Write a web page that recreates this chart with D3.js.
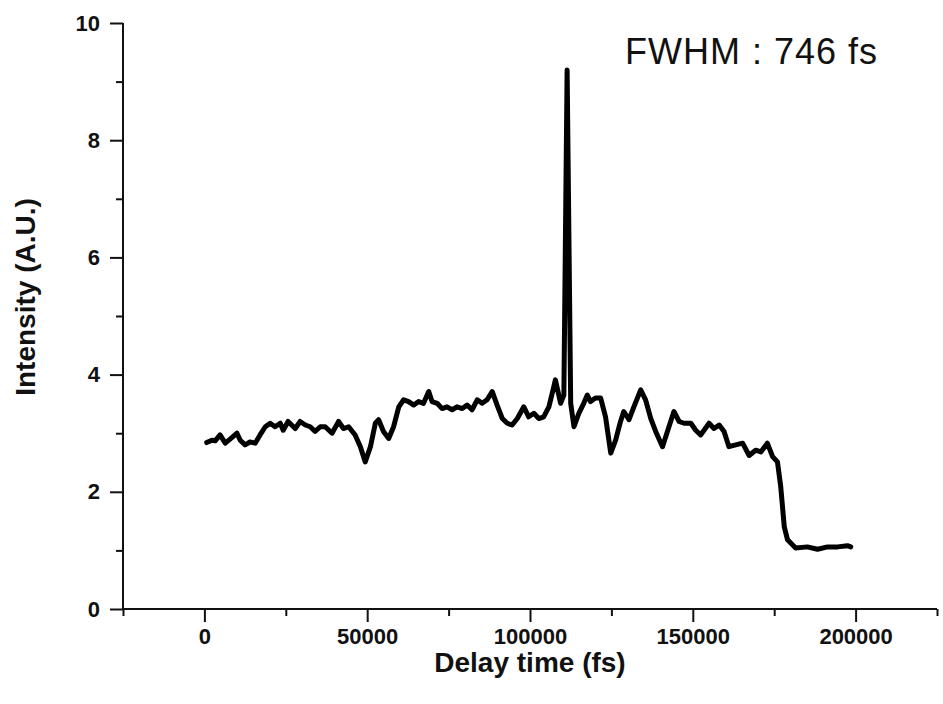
<!DOCTYPE html>
<html>
<head>
<meta charset="utf-8">
<script src="https://cdn.jsdelivr.net/npm/d3@7"></script>
<style>
  html, body { margin: 0; padding: 0; background: #fff; }
  svg { display: block; }
</style>
</head>
<body>
<div id="chart"></div>
<script>
// Autocorrelation trace
const delay = [
  700, 2300, 3300, 4800, 6400, 7900, 10000, 11000, 12500, 14000, 15600, 17100,
  18700, 20200, 21700, 23300, 24200, 25700, 27900, 29400, 31000, 32500, 34000,
  35600, 37100, 39200, 41200, 42700, 44300, 46300, 47900, 49400, 51000, 52500,
  53500, 55000, 56600, 58100, 59700, 61200, 62700, 64300, 65800, 67300, 68900,
  69900, 71500, 73000, 74500, 76100, 77600, 79200, 80700, 82200, 83800, 85300,
  86800, 88400, 89900, 91500, 93000, 94500, 96100, 98100, 99600, 101200, 102700,
  104200, 105800, 107300, 107800, 109400, 110400, 111400, 112500, 113500, 115000,
  116500, 117600, 118600, 120100, 121700, 123200, 124800, 126300, 127800, 128800,
  130400, 131900, 134000, 135500, 137100, 138600, 140700, 142200, 144200, 145800,
  147300, 149400, 150900, 152400, 155000, 156500, 158100, 159600, 161100, 163200,
  165300, 167300, 169300, 170900, 172900, 174500, 176000, 177000, 178100, 179100,
  181600, 185200, 188300, 191400, 194500, 197500, 198500
];
const intensity = [
  2.84, 2.88, 2.87, 2.97, 2.83, 2.90, 3.00, 2.88, 2.80, 2.85, 2.83, 2.97,
  3.11, 3.17, 3.11, 3.17, 3.05, 3.20, 3.08, 3.20, 3.14, 3.11, 3.03,
  3.11, 3.11, 3.00, 3.20, 3.08, 3.11, 2.97, 2.77, 2.51, 2.77, 3.17,
  3.23, 3.03, 2.91, 3.11, 3.45, 3.57, 3.54, 3.48, 3.54, 3.51, 3.71,
  3.54, 3.51, 3.42, 3.45, 3.40, 3.45, 3.42, 3.48, 3.40, 3.57, 3.51,
  3.57, 3.71, 3.48, 3.25, 3.17, 3.14, 3.25, 3.45, 3.28, 3.34, 3.25,
  3.28, 3.45, 3.79, 3.91, 3.51, 3.65, 9.20, 3.51, 3.11, 3.34,
  3.51, 3.65, 3.54, 3.60, 3.60, 3.28, 2.66, 2.88, 3.20, 3.37,
  3.23, 3.45, 3.74, 3.57, 3.25, 3.03, 2.77, 3.03, 3.37, 3.20,
  3.17, 3.17, 3.05, 2.97, 3.17, 3.08, 3.14, 3.03, 2.77, 2.80,
  2.83, 2.62, 2.71, 2.68, 2.83, 2.60, 2.51, 2.09, 1.40, 1.18,
  1.04, 1.06, 1.02, 1.06, 1.06, 1.08, 1.06
];

const xMajor = [0, 50000, 100000, 150000, 200000];
const xMinor = [-25000, 25000, 75000, 125000, 175000, 225000];
const yMajor = [0, 2, 4, 6, 8, 10];
const yMinor = [1, 3, 5, 7, 9];

const xTitle = 'Delay time (fs)';
const yTitle = 'Intensity (A.U.)';
const note = 'FWHM : 746 fs';

const width = 943, height = 704;
const font = 'Liberation Sans, Arial, Helvetica, sans-serif';
const ink = '#111';

const svg = d3.select('#chart').append('svg')
  .attr('width', width)
  .attr('height', height);

const x = d3.scaleLinear().domain([-25000, 225000]).range([123, 937]);
const y = d3.scaleLinear().domain([0, 10]).range([609, 23]);

// Axes: major ticks with labels, minor ticks without
const xAxis = svg.append('g')
  .attr('transform', `translate(0,${y(0)})`)
  .call(d3.axisBottom(x).tickValues(xMajor).tickSize(13).tickPadding(6).tickFormat(d3.format('d')));
svg.append('g')
  .attr('transform', `translate(0,${y(0)})`)
  .call(d3.axisBottom(x).tickValues(xMinor).tickSize(7).tickFormat(''))
  .call(g => g.select('.domain').remove());

const yAxis = svg.append('g')
  .attr('transform', `translate(${x(-25000)},0)`)
  .call(d3.axisLeft(y).tickValues(yMajor).tickSize(13).tickPadding(10));
svg.append('g')
  .attr('transform', `translate(${x(-25000)},0)`)
  .call(d3.axisLeft(y).tickValues(yMinor).tickSize(7).tickFormat(''))
  .call(g => g.select('.domain').remove());

svg.selectAll('.domain, .tick line')
  .attr('stroke', ink)
  .attr('stroke-width', 2);
xAxis.select('.domain').attr('d', `M${x(-25000)},0H${x(225000)}`);
yAxis.select('.domain').attr('d', `M0,${y(10)}V${y(0)}`);

svg.selectAll('.tick text')
  .attr('fill', ink)
  .attr('font-family', font)
  .attr('font-weight', 'bold')
  .attr('font-size', '22px');

// Trace
const line = d3.line()
  .x((d, i) => x(delay[i]))
  .y(d => y(d));

svg.append('path')
  .datum(intensity)
  .attr('d', line)
  .attr('fill', 'none')
  .attr('stroke', '#000')
  .attr('stroke-width', 5)
  .attr('stroke-linejoin', 'round')
  .attr('stroke-linecap', 'round');

// Titles
svg.append('text')
  .attr('x', 530)
  .attr('y', 672)
  .attr('text-anchor', 'middle')
  .attr('fill', ink)
  .attr('font-family', font)
  .attr('font-weight', 'bold')
  .attr('font-size', '28px')
  .text(xTitle);

svg.append('text')
  .attr('transform', `translate(35, 297) rotate(-90)`)
  .attr('text-anchor', 'middle')
  .attr('fill', ink)
  .attr('font-family', font)
  .attr('font-weight', 'bold')
  .attr('font-size', '28px')
  .text(yTitle);

svg.append('text')
  .attr('x', 625)
  .attr('y', 64)
  .attr('fill', ink)
  .attr('font-family', font)
  .attr('font-size', '36px')
  .attr('textLength', 252)
  .attr('lengthAdjust', 'spacing')
  .text(note);
</script>
</body>
</html>
